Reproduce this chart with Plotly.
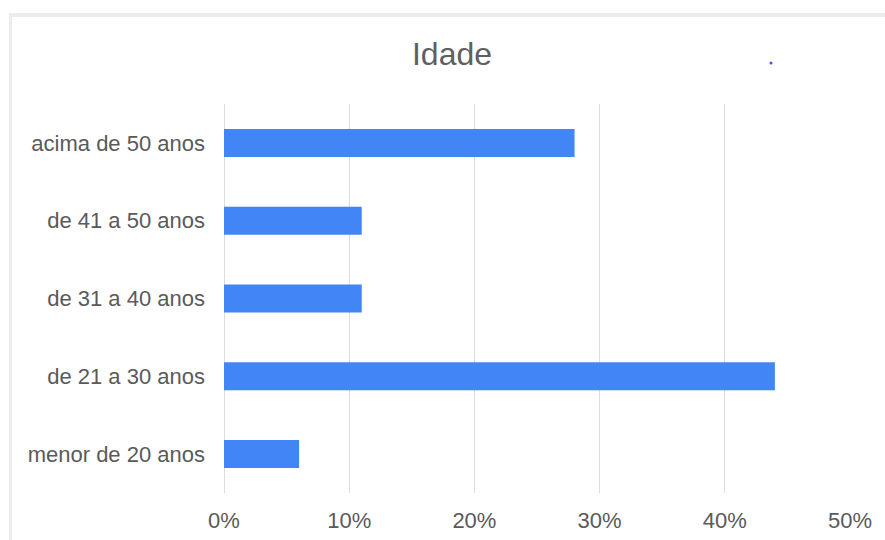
import plotly.graph_objects as go

categories = ["menor de 20 anos", "de 21 a 30 anos", "de 31 a 40 anos", "de 41 a 50 anos", "acima de 50 anos"]
values = [0.06, 0.44, 0.11, 0.11, 0.28]
tick_vals = [0, 0.1, 0.2, 0.3, 0.4, 0.5]
tick_text = ["0%", "10%", "20%", "30%", "40%", "50%"]

L, R, T, B = 224, 35, 104, 47
W, H = 885, 540
pw, ph = W - L - R, H - T - B

def px(x):
    return (x - L) / pw

def py(y):
    return (H - B - y) / ph

fig = go.Figure(go.Bar(
    x=values, y=categories, orientation="h",
    marker=dict(color="#4285F4", line=dict(width=0)),
    width=0.36, hoverinfo="skip",
))

shapes = [
    dict(type="rect", xref="paper", yref="paper", x0=px(9), x1=px(885), y0=py(17), y1=py(13),
         fillcolor="#ececec", line=dict(width=0), layer="above"),
    dict(type="rect", xref="paper", yref="paper", x0=px(9), x1=px(12), y0=py(540), y1=py(13),
         fillcolor="#ececec", line=dict(width=0), layer="above"),
    dict(type="circle", xref="paper", yref="paper", x0=px(769.5), x1=px(772.5), y0=py(64.5), y1=py(61.5),
         fillcolor="#4a4aff", line=dict(width=0), layer="above"),
]

fig.update_layout(
    width=W, height=H,
    margin=dict(l=L, r=R, t=T, b=B, autoexpand=False),
    paper_bgcolor="white", plot_bgcolor="white",
    showlegend=False,
    font=dict(family="Liberation Sans, Arial, sans-serif", color="#5a5a5a"),
    title=dict(text="Idade", x=452 / W, xanchor="center", y=1 - 54 / H, yanchor="middle",
               font=dict(size=32, color="#5f5f5f")),
    xaxis=dict(range=[0, 0.5], tickvals=tick_vals, ticktext=tick_text,
               showgrid=True, gridcolor="#dcdcdc", gridwidth=1,
               zeroline=True, zerolinecolor="#dcdcdc", zerolinewidth=1,
               showline=False, ticks="", tickfont=dict(size=22, color="#5a5a5a"),
               ticklabelstandoff=12, automargin=False, fixedrange=True),
    yaxis=dict(range=[-0.5, 4.5], showgrid=False, zeroline=False, showline=False,
               ticks="", tickfont=dict(size=22, color="#5a5a5a"),
               ticklabelstandoff=18, automargin=False, fixedrange=True),
    shapes=shapes,
)

fig.write_html("out.html")
